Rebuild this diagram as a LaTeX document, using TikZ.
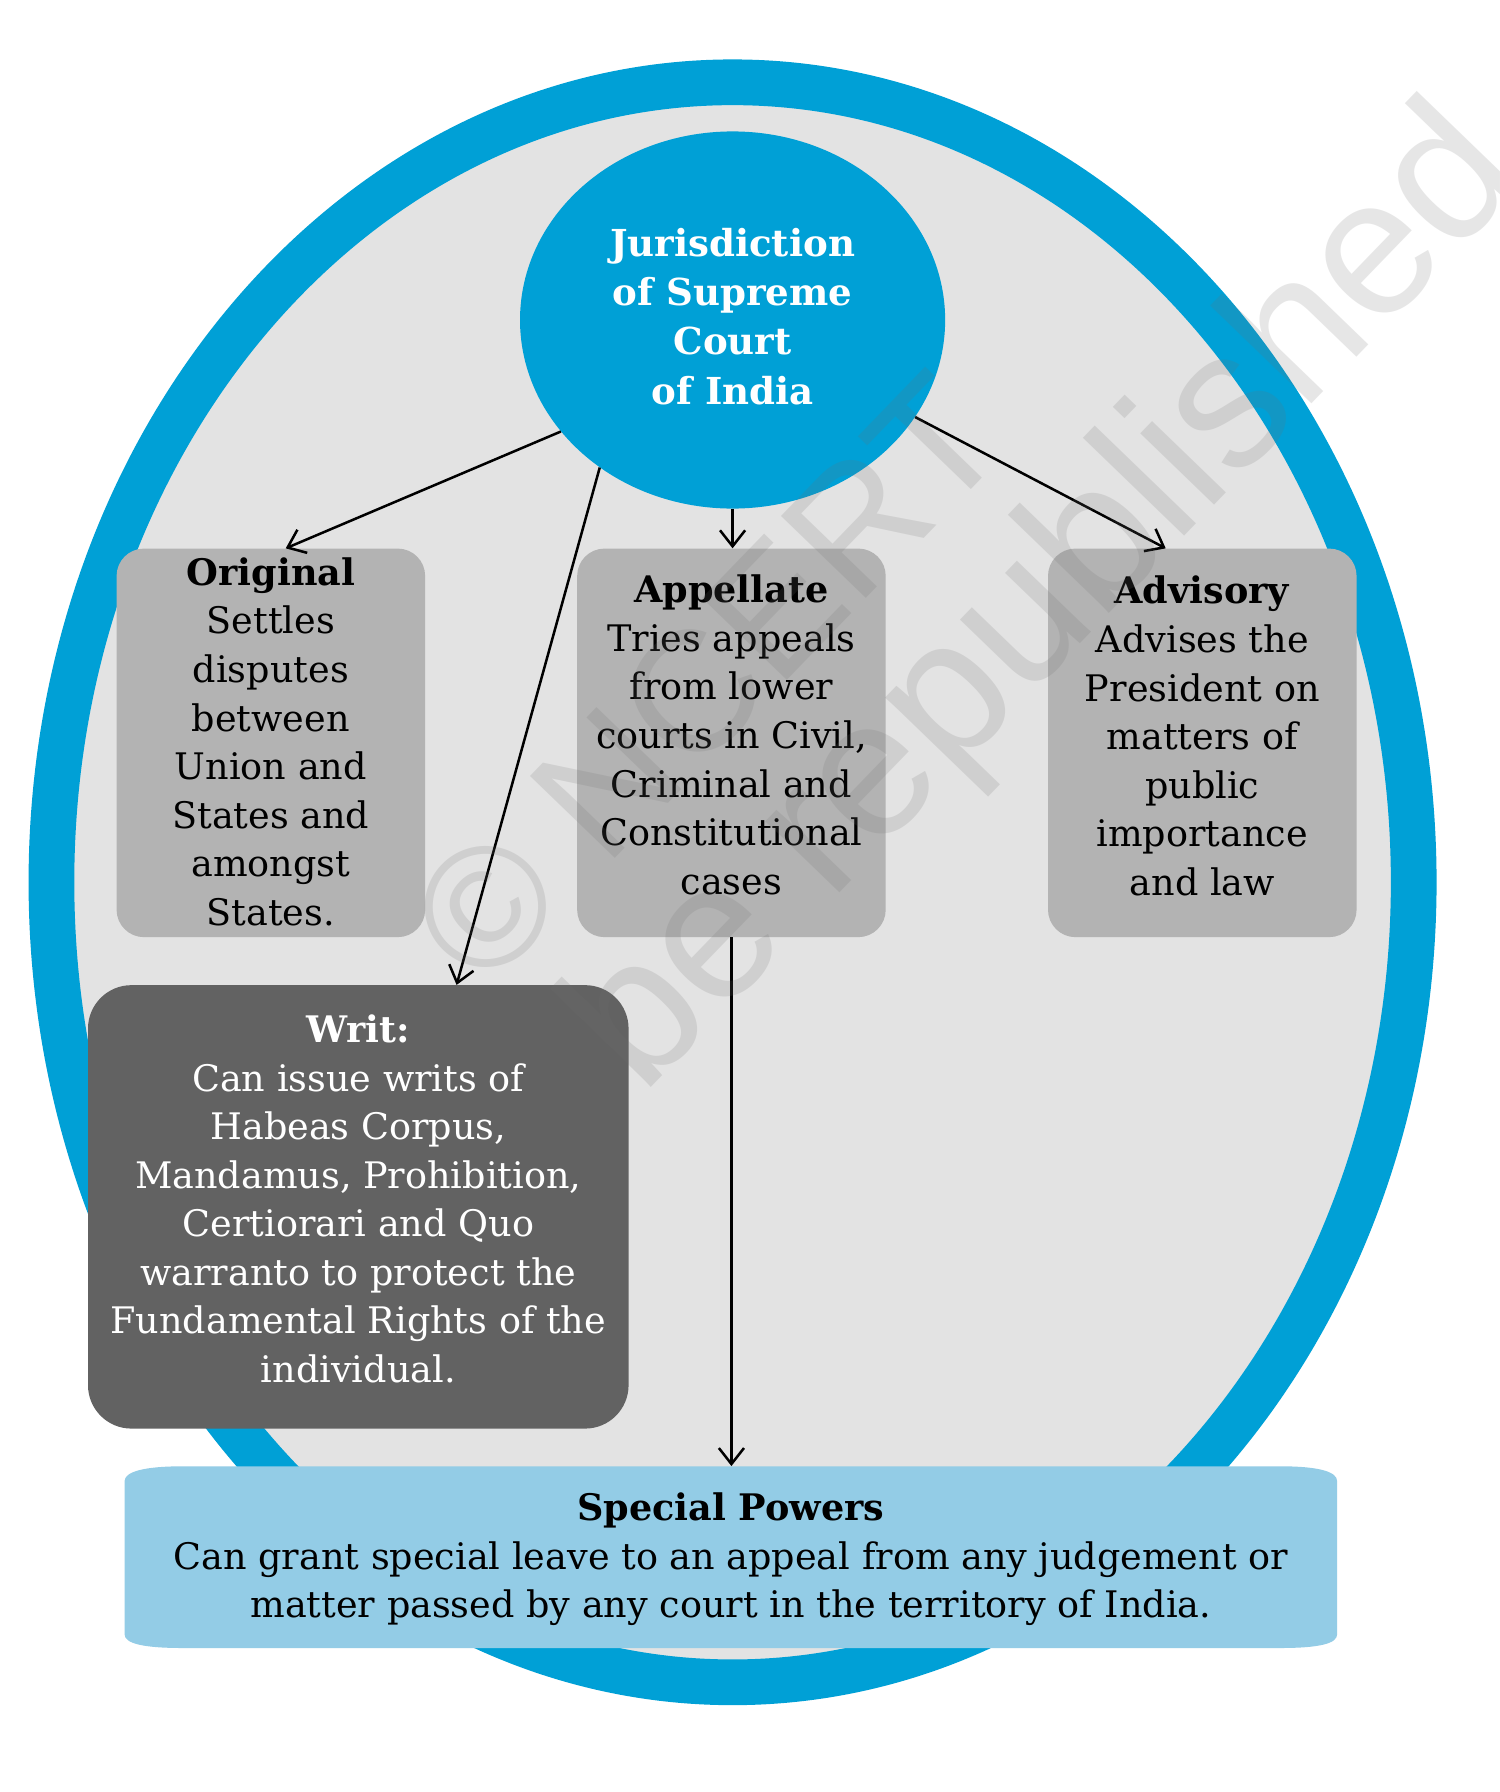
\documentclass[tikz,border=0pt]{standalone}
\usepackage{fontspec}
\setmainfont{DejaVu Serif}
\newfontfamily\wmfont{Liberation Sans}
\usetikzlibrary{arrows.meta,shapes.geometric,calc}
\definecolor{ringblue}{RGB}{0,160,214}
\definecolor{innergrey}{RGB}{227,227,227}
\definecolor{boxgrey}{RGB}{179,179,179}
\definecolor{writgrey}{RGB}{98,98,98}
\definecolor{splblue}{RGB}{147,204,230}
\definecolor{wmgrey}{RGB}{110,110,110}
\begin{document}
\begin{tikzpicture}[x=1pt,y=-1pt,
  bodytext/.style={font=\fontsize{32}{42.5}\selectfont, align=center, inner sep=0pt},
  greybox/.style={fill=boxgrey, rounded corners=24pt, minimum width=270pt, minimum height=340pt, inner sep=0pt},
  writbox/.style={fill=writgrey, rounded corners=38pt, minimum width=473pt, minimum height=388pt, inner sep=0pt},
  jurnode/.style={ellipse, fill=ringblue, inner sep=0pt, minimum width=372pt, minimum height=330pt},
  jurtext/.style={text=white, align=center, inner sep=0pt, font=\bfseries\fontsize{32.5}{43}\selectfont},
  conn/.style={line width=2.2pt, -{Straight Barb[length=14pt,width=22pt]}},
  wmark/.style={font=\wmfont\fontsize{170}{170}\selectfont, text=wmgrey, text opacity=0.17, inner sep=0pt}
]
\fill[white] (0,0) rectangle (1312,1568);
\useasboundingbox (0,0) rectangle (1312,1568);

% outer ring
\draw[ringblue, line width=40pt, fill=innergrey] (641,772) ellipse [x radius=596, y radius=700];

% centre
\node[jurnode] (jur) at (641,280) {};
\node[jurtext] (jurt) at (641,277) {Jurisdiction\\of Supreme\\Court\\of India};

% three boxes
\node[greybox] (orig) at (237,650) {};
\node[greybox] (app) at (640,650) {};
\node[greybox] (adv) at (1052,650) {};
\node[bodytext] (origt) at (237,649) {\textbf{Original}\\Settles\\disputes\\between\\Union and\\States and\\amongst\\States.};
\node[bodytext] (appt) at (640,643) {\textbf{Appellate}\\Tries appeals\\from lower\\courts in Civil,\\Criminal and\\Constitutional\\cases};
\node[bodytext] (advt) at (1052,644) {\textbf{Advisory}\\Advises the\\President on\\matters of\\public\\importance\\and law};

% writ box
\node[writbox] (writ) at (313.5,1056) {};
\node[bodytext, text=white] (writt) at (313.5,1049) {\textbf{Writ:}\\Can issue writs of\\Habeas Corpus,\\Mandamus, Prohibition,\\Certiorari and Quo\\warranto to protect the\\Fundamental Rights of the\\individual.};

% special powers banner
\fill[splblue] (109,1296) -- (109,1430) .. controls (109,1438) and (125,1442) .. (160,1442)
  -- (1120,1442) .. controls (1155,1442) and (1170,1438) .. (1170,1430)
  -- (1170,1296) .. controls (1170,1288) and (1155,1283) .. (1120,1283)
  -- (160,1283) .. controls (125,1283) and (109,1288) .. (109,1296) -- cycle;
\node[minimum width=1061pt, minimum height=159pt, inner sep=0pt] (sp) at (639.5,1362.5) {};
\node[bodytext] (spt) at (639.5,1364.5)
  {\textbf{Special Powers}\\Can grant special leave to an appeal from any judgement or\\matter passed by any court in the territory of India.};

% connectors
\draw[conn] (jur.213) -- ($(orig.north)+(13,0)$);
\draw[conn] (jur.228) -- ($(writ.north)+(86,0)$);
\draw[conn] (jur.south) -- (jur.south |- app.north);
\draw[conn] (jur.332) -- ($(adv.north)+(-32,0)$);
\draw[conn] (app.south) -- (app.south |- sp.north);

% watermark
\node[wmark, rotate=46, font=\wmfont\fontsize{150}{150}\selectfont] (wm1) at (618,594) {© NCERT};
\node[wmark, rotate=46] (wm2) at (918,528) {be republished};
\end{tikzpicture}
\end{document}
